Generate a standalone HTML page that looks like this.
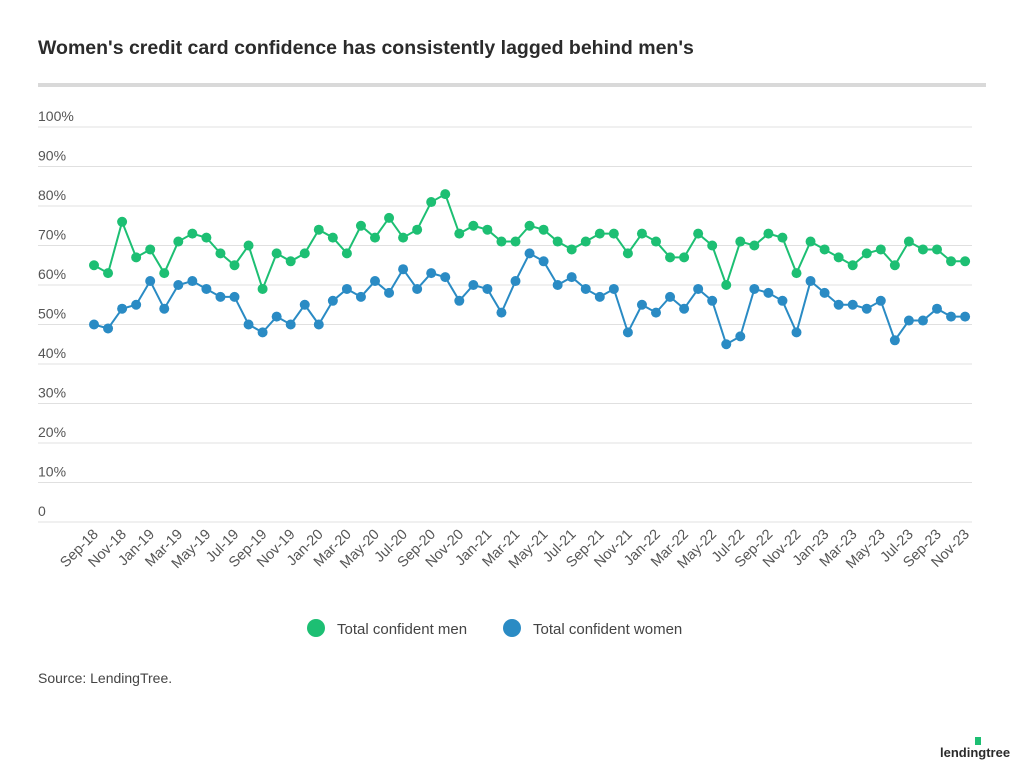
<!DOCTYPE html>
<html><head><meta charset="utf-8"><style>
body{margin:0;background:#fff;font-family:"Liberation Sans",sans-serif;}
</style></head><body>
<svg width="1024" height="769" xmlns="http://www.w3.org/2000/svg" font-family="Liberation Sans, sans-serif">
<text x="38" y="54" font-size="19.5" font-weight="bold" fill="#2b2b2b">Women's credit card confidence has consistently lagged behind men's</text>
<rect x="38" y="83" width="948" height="4" fill="#d9d9d9"/>
<g id="grid"></g>
<g id="series"></g>
<g id="xl"></g>
<circle cx="316" cy="628" r="9" fill="#1dbf73"/>
<text x="337" y="634" font-size="15" fill="#444">Total confident men</text>
<circle cx="512" cy="628" r="9" fill="#2a8bc4"/>
<text x="533" y="634" font-size="15" fill="#444">Total confident women</text>
<text x="38" y="683" font-size="14" fill="#444">Source: LendingTree.</text>
<text x="940" y="757" font-size="13" font-weight="bold" fill="#2b2b2b">lendingtree</text>
<rect x="975" y="737" width="6" height="8" fill="#1dbf73"/>
</svg>
<script>
var ns="http://www.w3.org/2000/svg";
function el(t,a,p,txt){var e=document.createElementNS(ns,t);for(var k in a)e.setAttribute(k,a[k]);if(txt!==undefined)e.textContent=txt;document.getElementById(p).appendChild(e);return e;}
var y0=522,k=3.95;
for(var v=0;v<=100;v+=10){var y=y0-v*k;el("line",{x1:38,x2:972,y1:y,y2:y,stroke:"#e0e0e0","stroke-width":1},"grid");
el("text",{x:38,y:y-6,"font-size":14,fill:"#555"},"grid",v==0?"0":v+"%");}
var men=[65,63,76,67,69,63,71,73,72,68,65,70,59,68,66,68,74,72,68,75,72,77,72,74,81,83,73,75,74,71,71,75,74,71,69,71,73,73,68,73,71,67,67,73,70,60,71,70,73,72,63,71,69,67,65,68,69,65,71,69,69,66,66];
var wom=[50,49,54,55,61,54,60,61,59,57,57,50,48,52,50,55,50,56,59,57,61,58,64,59,63,62,56,60,59,53,61,68,66,60,62,59,57,59,48,55,53,57,54,59,56,45,47,59,58,56,48,61,58,55,55,54,56,46,51,51,54,52,52];
function X(i){return 94+i*14.05;}
[[men,"#1dbf73"],[wom,"#2a8bc4"]].forEach(function(s){
var pts=s[0].map(function(v,i){return X(i)+","+(y0-v*k)}).join(" ");
el("polyline",{points:pts,fill:"none",stroke:s[1],"stroke-width":2},"series");
s[0].forEach(function(v,i){el("circle",{cx:X(i),cy:y0-v*k,r:5,fill:s[1]},"series");});});
var mn=["Jan","Feb","Mar","Apr","May","Jun","Jul","Aug","Sep","Oct","Nov","Dec"];
for(var i=0;i<63;i+=2){var m=(8+i)%12,yr=18+Math.floor((8+i)/12);
el("text",{x:0,y:0,"font-size":14.5,fill:"#555","text-anchor":"end",transform:"translate("+(X(i)+5)+",535) rotate(-45)"},"xl",mn[m]+"-"+yr);}
</script>
</body></html>
